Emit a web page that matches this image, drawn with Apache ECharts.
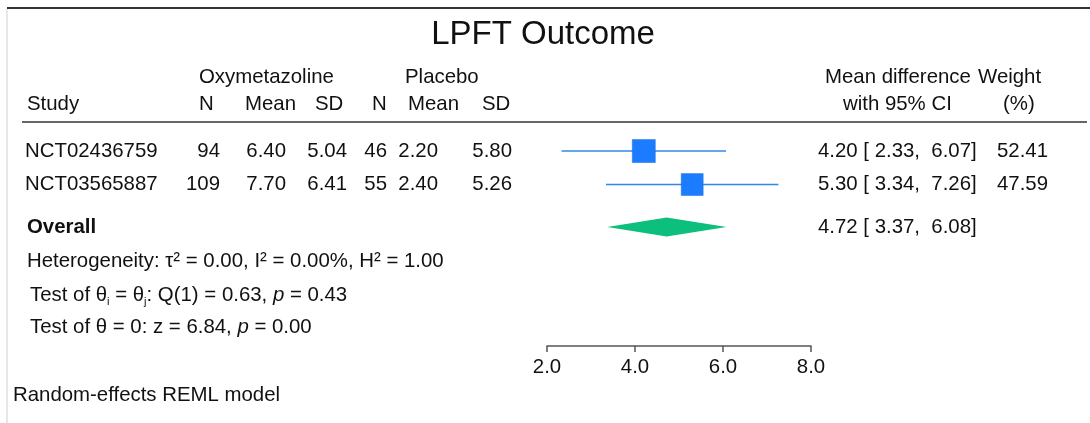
<!DOCTYPE html>
<html><head><meta charset="utf-8">
<script src="https://cdn.jsdelivr.net/npm/echarts@6/dist/echarts.min.js"></script>
<style>html,body{margin:0;padding:0;background:#fff}#c{width:1090px;height:423px}</style>
</head><body><div id="c"></div>
<script>
// ---- data ----
const studies = ['NCT02436759', 'NCT03565887'];
const oxyN = [94, 109];
const oxyMean = [6.40, 7.70];
const oxySD = [5.04, 6.41];
const plaN = [46, 55];
const plaMean = [2.20, 2.40];
const plaSD = [5.80, 5.26];
const meanDiff = [4.20, 5.30];
const ciLow = [2.33, 3.34];
const ciHigh = [6.07, 7.26];
const weights = [52.41, 47.59];
const overallMD = 4.72, overallLow = 3.37, overallHigh = 6.08;
const xTicks = [2, 4, 6, 8];
const title = 'LPFT Outcome';

// ---- layout (row positions on y axis, pixel columns) ----
const studyRows = [0, 1];
const overallRow = 2.27;
const statRows = [3.28, 4.30, 5.25];
const FONT = '"Liberation Sans", Arial, Helvetica, sans-serif';
const TXT = '#111';
const FS = 20.4;

const chart = echarts.init(document.getElementById('c'), null, {renderer: 'canvas'});

const markerData = studies.map((s, i) => [meanDiff[i], ciLow[i], ciHigh[i], studyRows[i], weights[i], 0]);
markerData.push([overallMD, overallLow, overallHigh, overallRow, 0, 1]);

chart.setOption({
  animation: false,
  backgroundColor: '#fff',
  grid: {left: 547, width: 264, top: 8, height: 338, containLabel: false},
  xAxis: {
    type: 'value', min: xTicks[0], max: xTicks[xTicks.length - 1], interval: 2,
    axisLine: {show: true, onZero: false, lineStyle: {color: '#555', width: 1.5}},
    axisTick: {show: true, length: 6, lineStyle: {color: '#555', width: 1.5}},
    splitLine: {show: false},
    axisLabel: {fontSize: FS, fontFamily: FONT, color: TXT, margin: 11,
      formatter: v => v.toFixed(1)}
  },
  yAxis: {type: 'value', inverse: true, min: -4.27, max: 5.82, show: false},
  series: [{
    type: 'custom',
    clip: false,
    encode: {x: [0, 1, 2], y: 3},
    data: markerData,
    renderItem: function (params, api) {
      const row = api.value(3);
      const kind = api.value(5);
      const pMid = api.coord([api.value(0), row]);
      const pLo = api.coord([api.value(1), row]);
      const pHi = api.coord([api.value(2), row]);
      const y = pMid[1];
      if (kind === 1) {
        const h = 9.5;
        return {type: 'polygon', shape: {points: [[pLo[0], y], [pMid[0], y - h], [pHi[0], y], [pMid[0], y + h]]},
          style: {fill: '#0cbf7c', stroke: null}};
      }
      const side = 3.18 * Math.sqrt(api.value(4));
      return {type: 'group', children: [
        {type: 'line', shape: {x1: pLo[0], y1: y, x2: pHi[0], y2: y},
          style: {stroke: '#2f8ae6', lineWidth: 1.5}},
        {type: 'rect', shape: {x: pMid[0] - side / 2, y: y - side / 2, width: side, height: side},
          style: {fill: '#1b7cff', stroke: '#1f6fd8', lineWidth: 0.5}}
      ]};
    }
  }]
});

function rowY(r) { return chart.convertToPixel({yAxisIndex: 0}, r); }
function t(x, y, text, opt) {
  opt = opt || {};
  return {type: 'text', x: x, y: y, silent: true,
    style: Object.assign({text: text, fill: TXT, fontSize: FS, fontFamily: FONT,
      align: opt.align || 'left', verticalAlign: 'middle'}, opt.style || {})};
}
const f2 = v => v.toFixed(2);
const g = [];
// frame lines
g.push({type: 'line', shape: {x1: 7, y1: 8, x2: 1090, y2: 8}, style: {stroke: '#333', lineWidth: 2}});
g.push({type: 'line', shape: {x1: 7, y1: 9, x2: 7, y2: 423}, style: {stroke: '#d0d0d0', lineWidth: 1}});
g.push({type: 'line', shape: {x1: 22, y1: 122, x2: 1087, y2: 122}, style: {stroke: '#333', lineWidth: 1.5}});
// title
g.push(t(543, 35, title, {align: 'center', style: {fontSize: 33}}));
// header
g.push(t(199, 77, 'Oxymetazoline'));
g.push(t(405, 77, 'Placebo'));
g.push(t(27, 104, 'Study'));
g.push(t(199, 104, 'N'));
g.push(t(245, 104, 'Mean'));
g.push(t(315, 104, 'SD'));
g.push(t(372, 104, 'N'));
g.push(t(408, 104, 'Mean'));
g.push(t(482, 104, 'SD'));
g.push(t(825, 77, 'Mean difference'));
g.push(t(843, 104, 'with 95% CI'));
g.push(t(978, 77, 'Weight'));
g.push(t(1003, 104, '(%)'));
// study rows
studies.forEach((s, i) => {
  const y = rowY(studyRows[i]);
  g.push(t(25, y, s));
  g.push(t(220, y, String(oxyN[i]), {align: 'right'}));
  g.push(t(286, y, f2(oxyMean[i]), {align: 'right'}));
  g.push(t(347, y, f2(oxySD[i]), {align: 'right'}));
  g.push(t(387, y, String(plaN[i]), {align: 'right'}));
  g.push(t(438, y, f2(plaMean[i]), {align: 'right'}));
  g.push(t(512, y, f2(plaSD[i]), {align: 'right'}));
  g.push(t(818, y, f2(meanDiff[i]) + ' [ ' + f2(ciLow[i]) + ',  ' + f2(ciHigh[i]) + ']'));
  g.push(t(997, y, f2(weights[i])));
});
const yo = rowY(overallRow);
g.push(t(27, yo, 'Overall', {style: {fontWeight: 'bold'}}));
g.push(t(818, yo, f2(overallMD) + ' [ ' + f2(overallLow) + ',  ' + f2(overallHigh) + ']'));
// statistics
g.push(t(27, rowY(statRows[0]), 'Heterogeneity: τ² = 0.00, I² = 0.00%, H² = 1.00'));
const rich = {
  n: {fontSize: FS, fontFamily: FONT, color: TXT, lineHeight: 24},
  s: {fontSize: 11, fontFamily: FONT, color: TXT, lineHeight: 12, verticalAlign: 'bottom'},
  it: {fontSize: FS, fontFamily: FONT, color: TXT, lineHeight: 24, fontStyle: 'italic'}
};
g.push({type: 'text', x: 30, y: rowY(statRows[1]), silent: true,
  style: {text: '{n|Test of θ}{s|i}{n| = θ}{s|j}{n|: Q(1) = 0.63, }{it|p}{n| = 0.43}', rich: rich,
    fontSize: FS, fontFamily: FONT, fill: TXT, align: 'left', verticalAlign: 'middle'}});
g.push({type: 'text', x: 30, y: rowY(statRows[2]), silent: true,
  style: {text: '{n|Test of θ = 0: z = 6.84, }{it|p}{n| = 0.00}', rich: rich,
    fontSize: FS, fontFamily: FONT, fill: TXT, align: 'left', verticalAlign: 'middle'}});
g.push(t(13, 395, 'Random-effects REML model'));

chart.setOption({graphic: {elements: g}});
</script></body></html>
